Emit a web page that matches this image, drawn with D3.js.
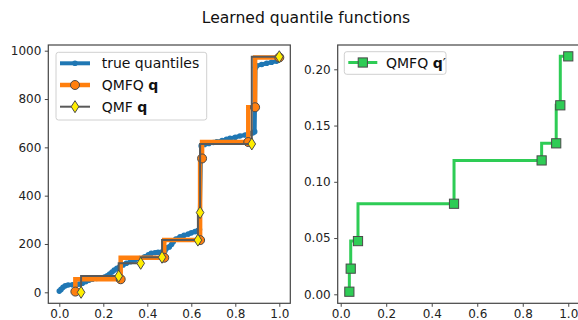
<!DOCTYPE html>
<html>
<head>
<meta charset="utf-8">
<script src="https://cdn.jsdelivr.net/npm/d3@7"></script>
<style>
  body { margin: 0; background: #fff; }
  text { font-family: "DejaVu Sans", sans-serif; }
</style>
</head>
<body>
<script>
// true quantiles
const trueX = [0.0, 0.008, 0.017, 0.027, 0.04, 0.06, 0.077, 0.09, 0.105, 0.12, 0.135, 0.15, 0.17, 0.19,
  0.206, 0.218, 0.229, 0.24, 0.25, 0.262, 0.275, 0.29, 0.305, 0.325, 0.343, 0.365, 0.388, 0.405,
  0.418, 0.435, 0.449, 0.465, 0.479, 0.484, 0.49, 0.5, 0.51, 0.518, 0.53, 0.549, 0.567, 0.586,
  0.6, 0.617, 0.63, 0.637, 0.645, 0.66, 0.68, 0.7, 0.715, 0.74, 0.76, 0.776, 0.8, 0.821, 0.845,
  0.867, 0.88, 0.888, 0.892, 0.897, 0.92, 0.943, 0.965, 0.988, 0.995, 1.0];
const trueY = [5, 12, 21, 27, 30, 31, 31, 34, 38, 44, 50, 54, 57, 60,
  63, 68, 76, 84, 92, 99, 106, 113, 120, 127, 134, 140, 147, 155,
  161, 164, 166, 167, 169, 178, 184, 188, 198, 209, 220, 230, 236, 241,
  246, 251, 256, 260, 606, 612, 616, 620, 623, 628, 633, 637, 642, 647, 651,
  657, 660, 665, 930, 938, 943, 948, 952, 957, 965, 972];

// QMFQ q (orange) and QMF q (grey)
const qmfqX = [0.073, 0.279, 0.477, 0.64, 0.649, 0.859, 0.89, 1.0];
const qmfqY = [3, 54, 143, 216, 554, 622, 766, 972];
const qmfX = [0.099, 0.27, 0.37, 0.467, 0.63, 0.64, 0.875, 1.0];
const qmfY = [0, 67, 120, 145, 216, 330, 614, 975];

// QMFQ q' (green)
const qpX = [0.038, 0.044, 0.076, 0.498, 0.883, 0.947, 0.965, 1.0];
const qpY = [0.0023, 0.0228, 0.0473, 0.0805, 0.119, 0.1342, 0.168, 0.2115];

const xTicks = [0, 0.2, 0.4, 0.6, 0.8, 1.0];
const yTicksL = [0, 200, 400, 600, 800, 1000];
const yTicksR = [0, 0.05, 0.1, 0.15, 0.2];

let width = 578, height = 320;
let blue = "#1f77b4", orange = "#ff7f0e", grey = "#595959", green = "#2ecc55";
let edge = "#4a4a4a";

const svg = d3.select("body").append("svg")
  .attr("width", width).attr("height", height);

svg.append("text")
  .attr("x", 306).attr("y", 23)
  .attr("text-anchor", "middle")
  .style("font-size", "15.6px")
  .attr("fill", "#111")
  .text("Learned quantile functions");

// scales
let xL = d3.scaleLinear().domain([-0.05, 1.05]).range([48.3, 290.3]);
let yL = d3.scaleLinear().domain([-45.5, 1023.6]).range([303.3, 45]);
let xR = d3.scaleLinear().domain([-0.0132, 1.0485]).range([337.7, 579.3]);
let yR = d3.scaleLinear().domain([-0.008, 0.2216]).range([303.3, 45]);

function drawAxes(x, y, yTicks, yFmt) {
  const g = svg.append("g");
  g.append("g")
    .attr("transform", `translate(0,${y.range()[0]})`)
    .call(d3.axisBottom(x).tickValues(xTicks).tickFormat(d3.format(".1f")).tickSize(3.5).tickPadding(3))
    .call(a => a.select(".domain").remove());
  g.append("g")
    .attr("transform", `translate(${x.range()[0]},0)`)
    .call(d3.axisLeft(y).tickValues(yTicks).tickFormat(yFmt).tickSize(3.5).tickPadding(3.5))
    .call(a => a.select(".domain").remove());
  g.selectAll(".tick text").style("font-size", "12px").attr("fill", "#222")
    .style("font-family", "DejaVu Sans, sans-serif");
  g.selectAll(".tick line").attr("stroke", "#333").attr("stroke-width", 0.9);
  return g;
}

function drawFrame(x, y) {
  svg.append("rect")
    .attr("x", x.range()[0]).attr("y", y.range()[1])
    .attr("width", x.range()[1] - x.range()[0])
    .attr("height", y.range()[0] - y.range()[1])
    .attr("fill", "none").attr("stroke", "#444").attr("stroke-width", 1.2);
}

drawAxes(xL, yL, yTicksL, d3.format("d"));
drawAxes(xR, yR, yTicksR, d3.format(".2f"));

// ---------- left panel
const left = svg.append("g");
let lineL = d3.line().x(d => xL(d[0])).y(d => yL(d[1]));
let stepL = d3.line().curve(d3.curveStepBefore).x(d => xL(d[0])).y(d => yL(d[1]));

const truePts = trueX.map((v, i) => [v, trueY[i]]);
left.append("path")
  .attr("d", lineL(truePts))
  .attr("fill", "none").attr("stroke", blue).attr("stroke-width", 4);
left.selectAll(".tq").data(truePts).join("circle")
  .attr("cx", d => xL(d[0])).attr("cy", d => yL(d[1])).attr("r", 2.8).attr("fill", blue);

const qmfqPts = qmfqX.map((v, i) => [v, qmfqY[i]]);
left.append("path")
  .attr("d", stepL(qmfqPts))
  .attr("fill", "none").attr("stroke", orange).attr("stroke-width", 4.5);
left.selectAll(".oc").data(qmfqPts).join("circle")
  .attr("cx", d => xL(d[0])).attr("cy", d => yL(d[1])).attr("r", 4.5)
  .attr("fill", orange).attr("stroke", edge).attr("stroke-width", 1);

const qmfPts = qmfX.map((v, i) => [v, qmfY[i]]);
left.append("path")
  .attr("d", stepL(qmfPts))
  .attr("fill", "none").attr("stroke", grey).attr("stroke-width", 2);
let diamond = "M0,-6L3.8,0L0,6L-3.8,0Z";
left.selectAll(".dm").data(qmfPts).join("path")
  .attr("transform", d => `translate(${xL(d[0])},${yL(d[1])})`)
  .attr("d", diamond)
  .attr("fill", "#ffee00").attr("stroke", edge).attr("stroke-width", 1);

// legend left
const legL = svg.append("g");
legL.append("rect")
  .attr("x", 56).attr("y", 52.3).attr("width", 150.7).attr("height", 67.7)
  .attr("rx", 2.5).attr("fill", "#fff").attr("fill-opacity", 0.8)
  .attr("stroke", "#d0d0d0").attr("stroke-width", 1);
let rows = [63.3, 85, 106.7];
legL.append("line").attr("x1", 60).attr("x2", 90).attr("y1", rows[0]).attr("y2", rows[0])
  .attr("stroke", blue).attr("stroke-width", 4);
legL.append("circle").attr("cx", 75).attr("cy", rows[0]).attr("r", 2.8).attr("fill", blue);
legL.append("line").attr("x1", 60).attr("x2", 90).attr("y1", rows[1]).attr("y2", rows[1])
  .attr("stroke", orange).attr("stroke-width", 4.5);
legL.append("circle").attr("cx", 75).attr("cy", rows[1]).attr("r", 4.5)
  .attr("fill", orange).attr("stroke", edge).attr("stroke-width", 1);
legL.append("line").attr("x1", 60).attr("x2", 90).attr("y1", rows[2]).attr("y2", rows[2])
  .attr("stroke", grey).attr("stroke-width", 2);
legL.append("path").attr("transform", `translate(75,${rows[2]})`).attr("d", diamond)
  .attr("fill", "#ffee00").attr("stroke", edge).attr("stroke-width", 1);

let labels = [["true quantiles", ""], ["QMFQ ", "q"], ["QMF ", "q"]];
labels.forEach((l, i) => {
  const t = legL.append("text")
    .attr("x", 101.7).attr("y", rows[i]).attr("dy", "0.36em")
    .style("font-size", "14px").attr("fill", "#111");
  t.append("tspan").text(l[0]);
  if (l[1]) t.append("tspan").attr("font-weight", "bold").text(l[1]);
});

// ---------- right panel
const right = svg.append("g");
let stepR = d3.line().curve(d3.curveStepBefore).x(d => xR(d[0])).y(d => yR(d[1]));
const qpPts = qpX.map((v, i) => [v, qpY[i]]);
right.append("path")
  .attr("d", stepR(qpPts))
  .attr("fill", "none").attr("stroke", green).attr("stroke-width", 3);
right.selectAll(".sq").data(qpPts).join("rect")
  .attr("x", d => xR(d[0]) - 4.6).attr("y", d => yR(d[1]) - 4.6)
  .attr("width", 9.2).attr("height", 9.2)
  .attr("fill", green).attr("stroke", edge).attr("stroke-width", 1);

const legR = svg.append("g");
legR.append("rect")
  .attr("x", 344.3).attr("y", 51.7).attr("width", 101.7).attr("height", 22.6)
  .attr("rx", 2.5).attr("fill", "#fff").attr("fill-opacity", 0.8)
  .attr("stroke", "#d0d0d0").attr("stroke-width", 1);
legR.append("line").attr("x1", 348.3).attr("x2", 377.3).attr("y1", 62.5).attr("y2", 62.5)
  .attr("stroke", green).attr("stroke-width", 3);
legR.append("rect").attr("x", 362.8 - 4.6).attr("y", 62.5 - 4.6).attr("width", 9.2).attr("height", 9.2)
  .attr("fill", green).attr("stroke", edge).attr("stroke-width", 1);
const tR = legR.append("text")
  .attr("x", 386).attr("y", 62.5).attr("dy", "0.36em")
  .style("font-size", "14px").attr("fill", "#111");
tR.append("tspan").text("QMFQ ");
tR.append("tspan").attr("font-weight", "bold").text("q");
tR.append("tspan").text("′");

drawFrame(xL, yL);
drawFrame(xR, yR);
</script>
</body>
</html>
